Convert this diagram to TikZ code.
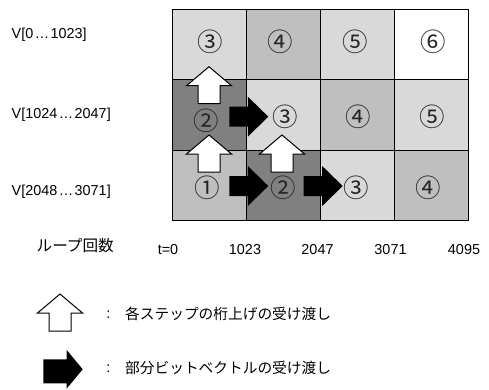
\documentclass[tikz,border=0pt]{standalone}
\usepackage{fontspec}
\setmainfont{Liberation Sans}
\newfontfamily\cjk{Noto Sans CJK JP}
\definecolor{lightc}{gray}{0.85}
\definecolor{midc}{gray}{0.75}
\definecolor{darkc}{gray}{0.5}
\begin{document}
\begin{tikzpicture}[x=1pt,y=-1pt,
  cell/.style={draw=black, line width=0.9pt, minimum height=70.5pt, inner sep=0pt, anchor=north west},
  num/.style={font=\cjk\fontsize{25.5}{25.5}\selectfont, inner sep=0pt, text=black!85},
  lab/.style={font=\fontsize{14.4}{14.4}\selectfont, inner sep=0pt},
  jlab/.style={font=\cjk\fontsize{14.7}{14.7}\selectfont, inner sep=0pt},
  uparr/.pic={\draw[fill=white, line width=1pt, line join=miter] (0,0) -- (22.5,19) -- (11,19) -- (11,37) -- (-11,37) -- (-11,19) -- (-22.5,19) -- cycle;},
  rarr/.pic={\fill[black] (0,0) -- (-20.5,-20) -- (-20.5,-10) -- (-39,-10) -- (-39,10) -- (-20.5,10) -- (-20.5,20) -- cycle;},
  rarrleg/.pic={\fill[black] (0,0) -- (-16,-19.3) -- (-16,-10) -- (-39.4,-10) -- (-39.4,14) -- (-16,14) -- (-16,19.3) -- cycle;}
]
\useasboundingbox (0,0) rectangle (489,389);
% row 0
\node[cell, fill=lightc, minimum width=74pt] (c00) at (172,8.5) {};
\node[cell, fill=midc, minimum width=73.5pt] (c01) at (246,8.5) {};
\node[cell, fill=lightc, minimum width=74.5pt] (c02) at (319.5,8.5) {};
\node[cell, fill=white, minimum width=74pt] (c03) at (394,8.5) {};
% row 1
\node[cell, fill=darkc, minimum width=74pt] (c10) at (172,79) {};
\node[cell, fill=lightc, minimum width=73.5pt] (c11) at (246,79) {};
\node[cell, fill=midc, minimum width=74.5pt] (c12) at (319.5,79) {};
\node[cell, fill=lightc, minimum width=74pt] (c13) at (394,79) {};
% row 2
\node[cell, fill=midc, minimum width=74pt] (c20) at (172,149.5) {};
\node[cell, fill=darkc, minimum width=73.5pt] (c21) at (246,149.5) {};
\node[cell, fill=lightc, minimum width=74.5pt] (c22) at (319.5,149.5) {};
\node[cell, fill=midc, minimum width=74pt] (c23) at (394,149.5) {};
% numbers
\node[num] (n00) at (210.5,42) {③};
\node[num] (n01) at (280,42) {④};
\node[num] (n02) at (355,42) {⑤};
\node[num] (n03) at (433,42) {⑥};
\node[num] (n10) at (206,121.3) {②};
\node[num] (n11) at (285,116.5) {③};
\node[num] (n12) at (358,116.5) {④};
\node[num] (n13) at (432,116.5) {⑤};
\node[num] (n20) at (207,188) {①};
\node[num] (n21) at (283,188) {②};
\node[num] (n22) at (356,188) {③};
\node[num] (n23) at (428,188) {④};
% arrows
\pic at (209,66.7) {uparr};
\pic at (209,135) {uparr};
\pic at (282,135) {uparr};
\pic at (268.3,116.7) {rarr};
\pic at (268.3,186) {rarr};
\pic at (342.7,186) {rarr};
% left labels
\node[lab, anchor=west] (v0) at (11.5,35) {V[0\kern1.5pt…\kern1.5pt1023]};
\node[lab, anchor=west] (v1) at (11.5,115) {V[1024\kern1.5pt…\kern1.5pt2047]};
\node[lab, anchor=west] (v2) at (11.5,192) {V[2048\kern1.5pt…\kern1.5pt3071]};
% bottom axis
\node[jlab, anchor=west, font=\cjk\fontsize{15.6}{15.6}\selectfont] (loop) at (36.5,246) {ループ回数};
\node[lab] (t0) at (168,249.5) {t=0};
\node[lab] (t1) at (245,249.5) {1023};
\node[lab] (t2) at (317.5,249.5) {2047};
\node[lab] (t3) at (390.5,249.5) {3071};
\node[lab] (t4) at (464,249.5) {4095};
% legend
\pic at (60,294) {uparr};
\pic at (82.7,369.3) {rarrleg};
\node[lab] (col1) at (108.3,315) {:};
\node[lab] (col2) at (108.3,368.5) {:};
\node[jlab, anchor=west] (leg1) at (125,314) {各ステップの桁上げの受け渡し};
\node[jlab, anchor=west] (leg2) at (125,368) {部分ビットベクトルの受け渡し};
\end{tikzpicture}
\end{document}
